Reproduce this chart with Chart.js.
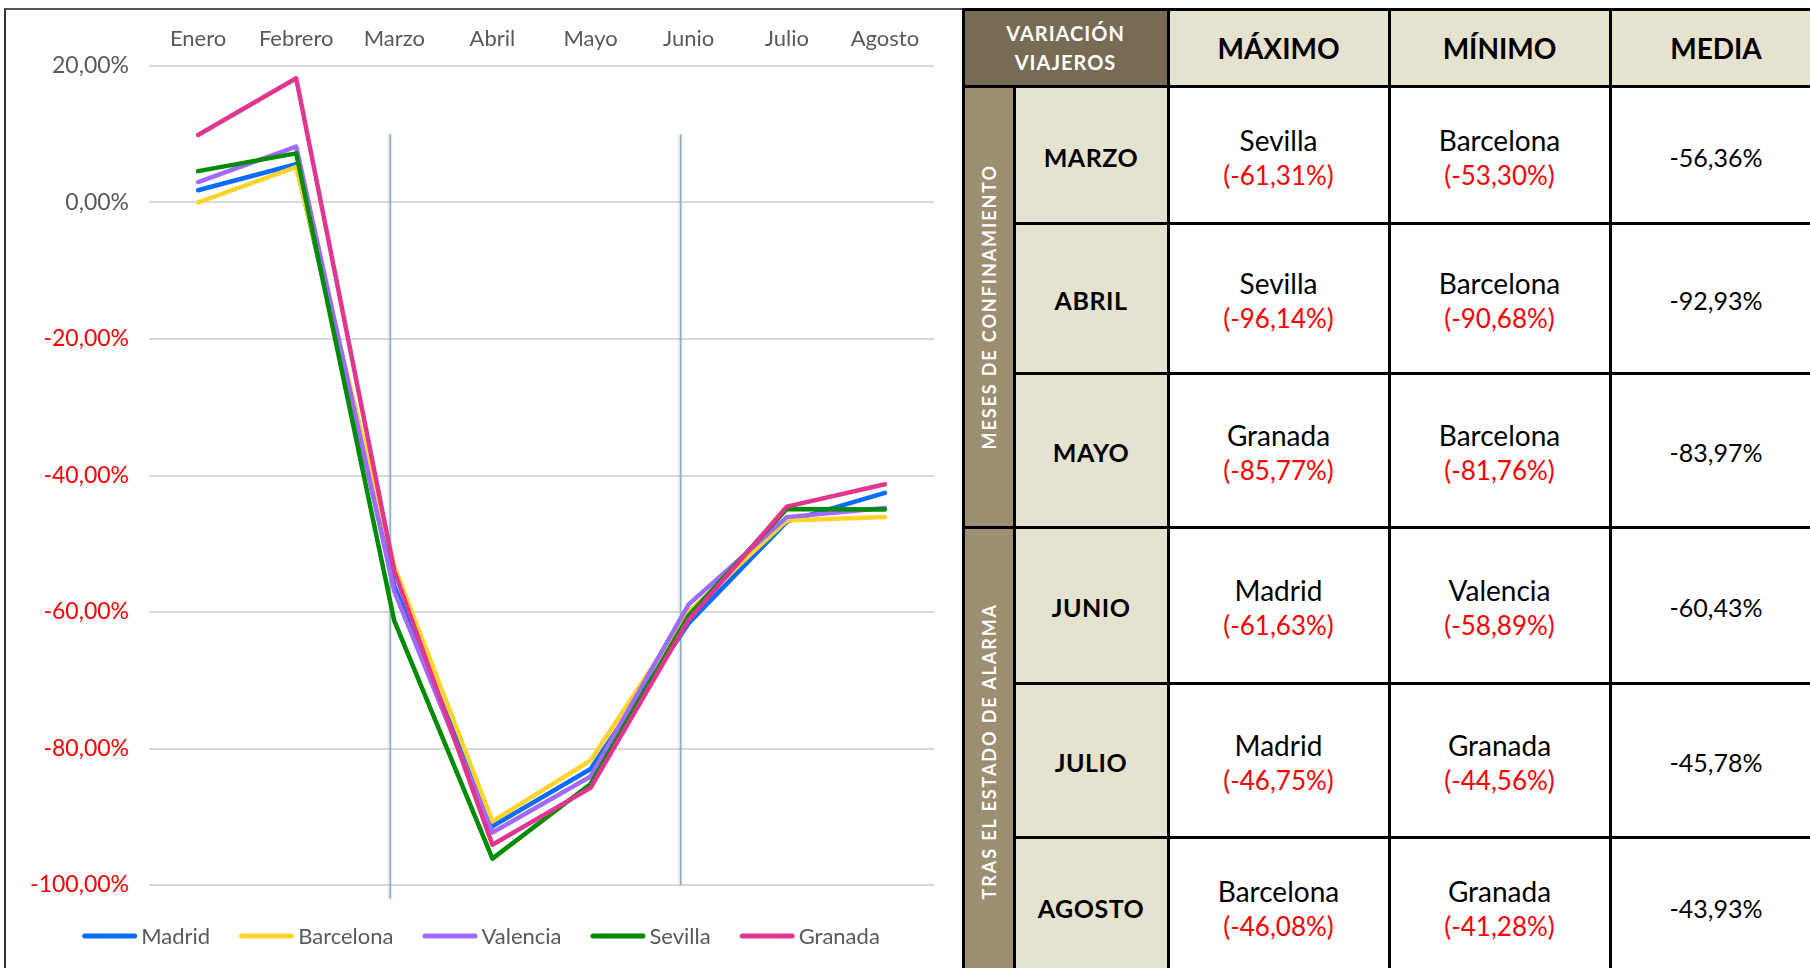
<!DOCTYPE html>
<html lang="es">
<head>
<meta charset="utf-8">
<title>Variación viajeros</title>
<script src="https://cdn.jsdelivr.net/npm/chart.js@4.4.1/dist/chart.umd.min.js"></script>
<style>
  html, body { margin: 0; padding: 0; background: #fff; }
  body { width: 1810px; height: 968px; overflow: hidden; position: relative; font-family: Lato, "DejaVu Sans", sans-serif; }
  #chartBox { position: absolute; left: 4px; top: 8px; width: 956px; height: 958px; border-left: 2px solid #333; border-top: 2px solid #555; }
  #grafico { display: block; }
  .cell { position: absolute; box-sizing: border-box; display: flex; flex-direction: column; align-items: center; justify-content: center; text-align: center; }
  .fondo { background: #000; }
  .cabecera { background: #776c53; color: #fff; font-weight: 700; font-size: 20px; letter-spacing: 1px; line-height: 29px; }
  .columna { background: #e6e2d0; color: #000; font-weight: 700; font-size: 28px; }
  .periodo { background: #9c8e70; }
  .periodo span { writing-mode: vertical-rl; transform: rotate(180deg); color: #fff; font-weight: 700; font-size: 18px; letter-spacing: 1.9px; }
  .mes { background: #e6e2d0; color: #000; font-weight: 700; font-size: 25px; letter-spacing: 0.5px; padding-top: 4px; }
  .dato { background: #fff; color: #000; font-size: 28px; line-height: 35px; padding-top: 6px; }
  .dato .pct { color: #ff0000; font-size: 26px; }
  .media { background: #fff; color: #000; font-size: 25px; padding-top: 4px; }
</style>
</head>
<body>
<div id="chartBox"><canvas id="grafico" width="956" height="958"></canvas></div>
<div id="tabla"></div>
<script>
// datos del gráfico
const meses = ['Enero', 'Febrero', 'Marzo', 'Abril', 'Mayo', 'Junio', 'Julio', 'Agosto'];
const ciudades = ['Madrid', 'Barcelona', 'Valencia', 'Sevilla', 'Granada'];
const madrid    = [1.8, 5.6, -56.2, -91.4, -83.0, -61.63, -46.75, -42.55];
const barcelona = [0.0, 5.2, -53.30, -90.68, -81.76, -60.0, -46.59, -46.08];
const valencia  = [3.0, 8.2, -57.0, -92.3, -84.1, -58.89, -46.1, -44.77];
const sevilla   = [4.6, 7.2, -61.31, -96.14, -85.2, -60.5, -44.9, -44.97];
const granada   = [9.9, 18.2, -54.0, -94.1, -85.77, -61.13, -44.56, -41.28];
const colores = ['#0a6cff', '#ffd42a', '#9f6bff', '#008c00', '#e0368f'];

// lineas verticales (inicio y fin del confinamiento)
const marcas = ['Marzo', 'Junio'];
const marcaTope = [10, 10];
const marcaFondo = [-102, -100];

// datos de la tabla
const columnas = ['MÁXIMO', 'MÍNIMO', 'MEDIA'];
const periodos = ['MESES DE CONFINAMIENTO', 'TRAS EL ESTADO DE ALARMA'];
const filasTabla = ['MARZO', 'ABRIL', 'MAYO', 'JUNIO', 'JULIO', 'AGOSTO'];
const maxCiudad = ['Sevilla', 'Sevilla', 'Granada', 'Madrid', 'Madrid', 'Barcelona'];
const maxValor = ['-61,31%', '-96,14%', '-85,77%', '-61,63%', '-46,75%', '-46,08%'];
const minCiudad = ['Barcelona', 'Barcelona', 'Barcelona', 'Valencia', 'Granada', 'Granada'];
const minValor = ['-53,30%', '-90,68%', '-81,76%', '-58,89%', '-44,56%', '-41,28%'];
const mediaValor = ['-56,36%', '-92,93%', '-83,97%', '-60,43%', '-45,78%', '-43,93%'];

const gris = '#595959';
const series = [madrid, barcelona, valencia, sevilla, granada];

const datasets = ciudades.map((nombre, i) => ({
    label: nombre,
    data: series[i],
    borderColor: colores[i],
    backgroundColor: colores[i],
    borderWidth: 4.5,
    pointRadius: 0,
    tension: 0,
    fill: false,
    borderCapStyle: 'round',
    borderJoinStyle: 'round',
    order: ciudades.length - i
}));

const desplaz = [4, 8];
const lineasVerticales = {
    id: 'lineasVerticales',
    beforeDatasetsDraw(chart) {
        const { ctx, scales: { x, y } } = chart;
        ctx.save();
        ctx.strokeStyle = '#8fb3c6';
        ctx.lineWidth = 1.8;
        ctx.shadowColor = 'rgba(0,0,0,0.15)';
        ctx.shadowBlur = 3;
        ctx.shadowOffsetX = -1;
        marcas.forEach((m, i) => {
            const px = x.getPixelForValue(meses.indexOf(m)) - desplaz[i];
            ctx.beginPath();
            ctx.moveTo(px, y.getPixelForValue(marcaTope[i]));
            ctx.lineTo(px, y.getPixelForValue(marcaFondo[i]));
            ctx.stroke();
        });
        ctx.restore();
    }
};

// leyenda dibujada a mano: linea corta pegada al texto, como en Excel
const leyenda = {
    id: 'leyenda',
    afterDraw(chart) {
        const { ctx } = chart;
        ctx.save();
        ctx.font = '22px Lato';
        const items = chart.data.datasets.map(d => ({ d: d, w: ctx.measureText(d.label).width }));
        const total = items.reduce((s, it) => s + 59 + it.w, 0) + 29 * (items.length - 1);
        let x = 475 - total / 2;
        const y = 926;
        items.forEach(it => {
            ctx.strokeStyle = it.d.borderColor;
            ctx.lineWidth = 5;
            ctx.lineCap = 'round';
            ctx.beginPath();
            ctx.moveTo(x + 2.5, y);
            ctx.lineTo(x + 52.5, y);
            ctx.stroke();
            ctx.fillStyle = gris;
            ctx.textBaseline = 'middle';
            ctx.fillText(it.d.label, x + 59, y + 1);
            x += 59 + it.w + 29;
        });
        ctx.restore();
    }
};

new Chart(document.getElementById('grafico'), {
    type: 'line',
    data: { labels: meses, datasets: datasets },
    plugins: [lineasVerticales, leyenda],
    options: {
        responsive: false,
        animation: false,
        layout: { padding: { top: 0, right: 28, bottom: 83, left: 0 } },
        scales: {
            x: {
                type: 'category',
                position: 'top',
                offset: true,
                grid: { display: false },
                border: { display: false },
                ticks: { color: gris, font: { family: 'Lato', size: 22 }, padding: 6, maxRotation: 0, autoSkip: false },
                afterFit: (s) => { s.height = 56; }
            },
            y: {
                min: -100,
                max: 20,
                grid: { color: '#d9d9d9', lineWidth: 2, drawTicks: false },
                border: { display: false },
                ticks: {
                    stepSize: 20,
                    padding: 20,
                    font: { family: 'Lato', size: 23 },
                    color: (c) => c.tick.value < 0 ? '#ff0000' : gris,
                    callback: (v) => v.toFixed(2).replace('.', ',') + '%'
                },
                afterFit: (s) => { s.width = 143; }
            }
        },
        plugins: {
            tooltip: { enabled: false },
            legend: { display: false }
        }
    }
});

// tabla de la derecha
const colX = [963, 1014, 1168, 1389, 1610, 1822];
const rowY = [9, 86, 223, 373, 527, 683, 837, 975];
const tabla = document.getElementById('tabla');

function celda(c0, c1, r0, r1, cls, html) {
    const d = document.createElement('div');
    d.className = 'cell ' + cls;
    d.style.left = (colX[c0] + 1.5) + 'px';
    d.style.top = (rowY[r0] + 1.5) + 'px';
    d.style.width = (colX[c1] - colX[c0] - 3) + 'px';
    d.style.height = (rowY[r1] - rowY[r0] - 3) + 'px';
    d.innerHTML = html;
    tabla.appendChild(d);
}

const fondo = document.createElement('div');
fondo.className = 'cell fondo';
Object.assign(fondo.style, { left: (colX[0] - 1.5) + 'px', top: (rowY[0] - 1.5) + 'px', width: '900px', height: '1000px' });
tabla.appendChild(fondo);

celda(0, 2, 0, 1, 'cabecera', '<div>VARIACIÓN</div><div>VIAJEROS</div>');
columnas.forEach((c, i) => celda(i + 2, i + 3, 0, 1, 'columna', c));
celda(0, 1, 1, 4, 'periodo', '<span>' + periodos[0] + '</span>');
celda(0, 1, 4, 7, 'periodo', '<span>' + periodos[1] + '</span>');
filasTabla.forEach((m, j) => {
    celda(1, 2, j + 1, j + 2, 'mes', m);
    celda(2, 3, j + 1, j + 2, 'dato', '<div>' + maxCiudad[j] + '</div><div class="pct">(' + maxValor[j] + ')</div>');
    celda(3, 4, j + 1, j + 2, 'dato', '<div>' + minCiudad[j] + '</div><div class="pct">(' + minValor[j] + ')</div>');
    celda(4, 5, j + 1, j + 2, 'media', mediaValor[j]);
});
</script>
</body>
</html>
